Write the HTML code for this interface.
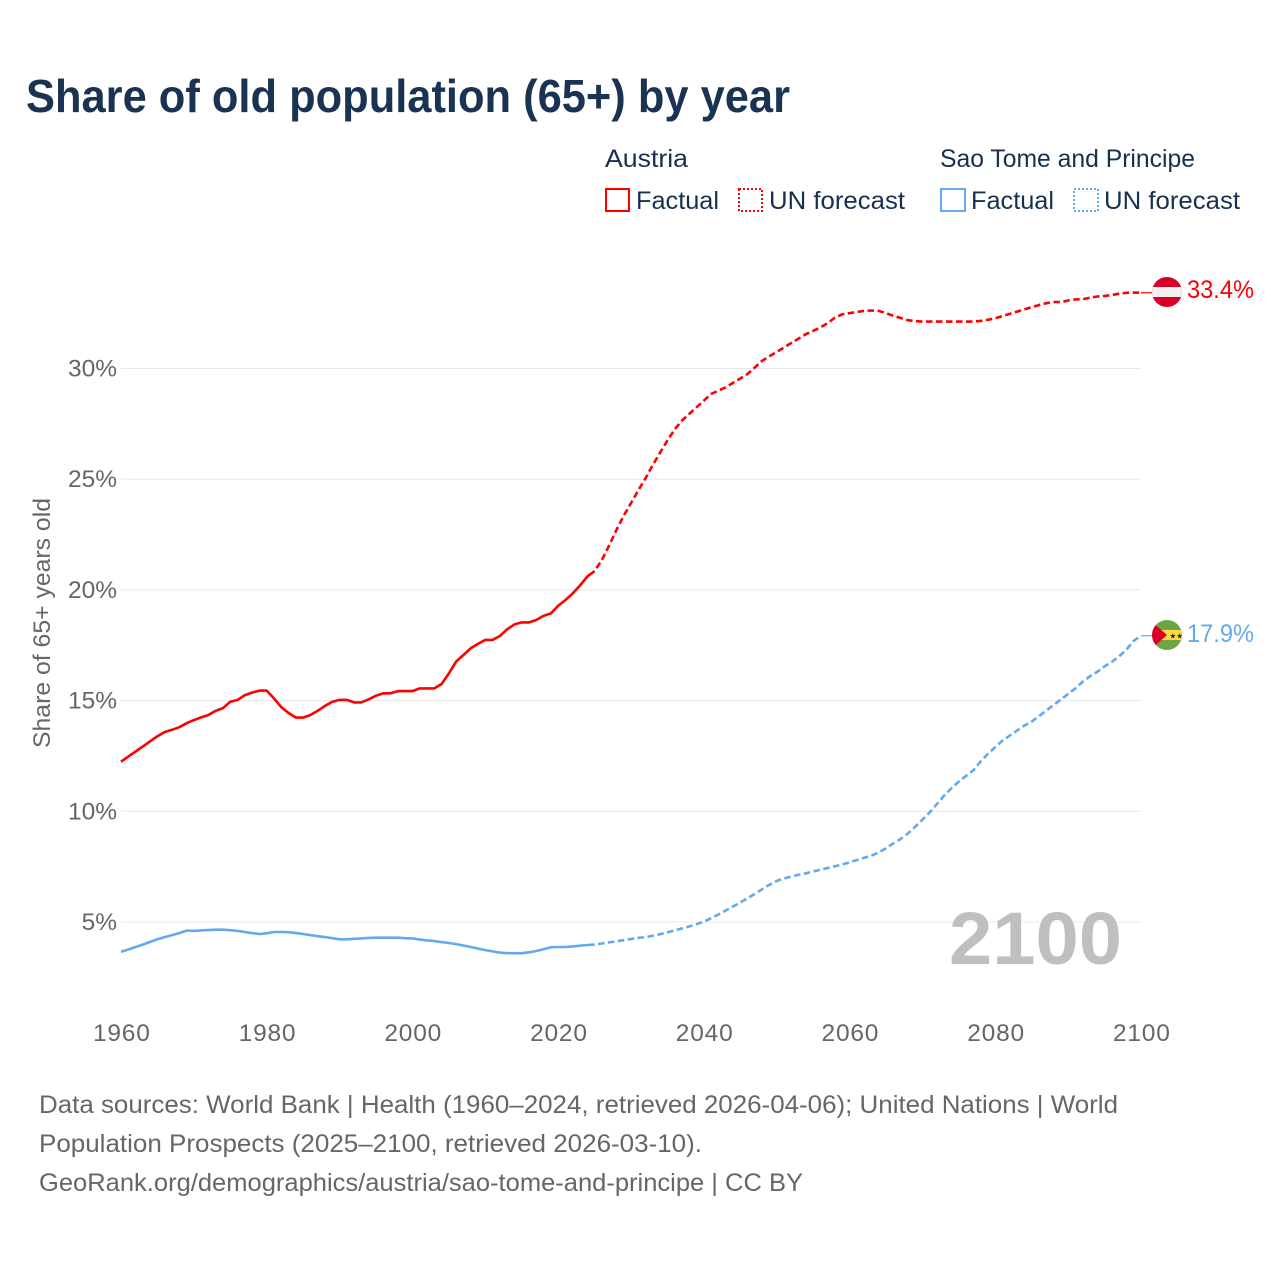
<!DOCTYPE html>
<html lang="en">
<head>
<meta charset="utf-8">
<title>Share of old population (65+) by year</title>
<style>
html,body{margin:0;padding:0;background:#fff;}
svg{display:block;}
text{font-family:"Liberation Sans",sans-serif;}
.leg{font-size:25px;fill:#17304f;}
.src{font-size:25px;fill:#666;}
.tick{font-size:24.5px;fill:#666;}
</style>
</head>
<body>
<svg id="chart" width="1280" height="1280" viewBox="0 0 1280 1280" xmlns="http://www.w3.org/2000/svg">
  <rect width="1280" height="1280" fill="#fff"/>
  <text x="26" y="112" font-size="46" font-weight="700" fill="#1a3353" textLength="764" lengthAdjust="spacingAndGlyphs">Share of old population (65+) by year</text>

  <g>
    <text class="leg" x="605" y="167" textLength="83" lengthAdjust="spacingAndGlyphs">Austria</text>
    <rect x="606" y="189" width="23" height="22" fill="none" stroke="#ff0000" stroke-width="2"/>
    <text class="leg" x="636" y="209" textLength="83" lengthAdjust="spacingAndGlyphs">Factual</text>
    <rect x="739" y="189" width="23" height="22" fill="none" stroke="#ff0000" stroke-width="2" stroke-dasharray="2 2"/>
    <text class="leg" x="769" y="209" textLength="136" lengthAdjust="spacingAndGlyphs">UN forecast</text>

    <text class="leg" x="940" y="167" textLength="255" lengthAdjust="spacingAndGlyphs">Sao Tome and Principe</text>
    <rect x="941" y="189" width="24" height="22" fill="none" stroke="#63a9ee" stroke-width="2"/>
    <text class="leg" x="971" y="209" textLength="83" lengthAdjust="spacingAndGlyphs">Factual</text>
    <rect x="1074" y="189" width="24" height="22" fill="none" stroke="#63a9ee" stroke-width="2" stroke-dasharray="2 2"/>
    <text class="leg" x="1104" y="209" textLength="136" lengthAdjust="spacingAndGlyphs">UN forecast</text>
  </g>

  <g id="grid"></g>
  <g id="yticks"></g>
  <g id="xticks"></g>
  <text transform="translate(50,748) rotate(-90)" font-size="24.500" fill="#666" textLength="250" lengthAdjust="spacingAndGlyphs">Share of 65+ years old</text>
  <text x="949" y="964" font-size="74" font-weight="700" fill="#bfbfbf" textLength="173" lengthAdjust="spacingAndGlyphs">2100</text>
  <g id="series"></g>

  <defs>
    <clipPath id="clip-at"><circle cx="1167" cy="292" r="15"/></clipPath>
    <clipPath id="clip-st"><circle cx="1167" cy="635" r="15"/></clipPath>
  </defs>
  <g clip-path="url(#clip-at)">
    <rect x="1152" y="277" width="30" height="30" fill="#d80027"/>
    <rect x="1152" y="287" width="30" height="10" fill="#f0f0f0"/>
  </g>
  <text x="1187" y="298" font-size="25" fill="#ff0000" textLength="67" lengthAdjust="spacingAndGlyphs">33.4%</text>
  <g clip-path="url(#clip-st)">
    <rect x="1152" y="620" width="30" height="30" fill="#6da544"/>
    <rect x="1152" y="630" width="30" height="10" fill="#ffda44"/>
    <polygon points="1150,620 1167,635 1150,650" fill="#d80027"/>
    <text x="1169.500" y="638.500" font-size="7.500" fill="#222" style="font-family:'DejaVu Sans',sans-serif">★★</text>
  </g>
  <text x="1187" y="642" font-size="25" fill="#63a9ee" textLength="67" lengthAdjust="spacingAndGlyphs">17.9%</text>

  <g>
    <text class="src" x="39" y="1113" textLength="1079" lengthAdjust="spacingAndGlyphs">Data sources: World Bank | Health (1960–2024, retrieved 2026-04-06); United Nations | World</text>
    <text class="src" x="39" y="1152" textLength="663" lengthAdjust="spacingAndGlyphs">Population Prospects (2025–2100, retrieved 2026-03-10).</text>
    <text class="src" x="39" y="1191" textLength="764" lengthAdjust="spacingAndGlyphs">GeoRank.org/demographics/austria/sao-tome-and-principe | CC BY</text>
  </g>
</svg>
<script>
const yTickValues = [5, 10, 15, 20, 25, 30];
const xTickValues = [1960, 1980, 2000, 2020, 2040, 2060, 2080, 2100];
const factualStartYear = 1960;
const forecastStartYear = 2025;

const austriaFactual = [
  12.24,12.47,12.70,12.93,13.16,13.39,13.58,13.68,13.80,13.98,
  14.12,14.24,14.35,14.54,14.66,14.95,15.03,15.25,15.36,15.45,
  15.45,15.10,14.70,14.44,14.23,14.23,14.35,14.54,14.76,14.95,
  15.03,15.03,14.92,14.92,15.06,15.22,15.33,15.33,15.43,15.43,
  15.43,15.55,15.55,15.55,15.75,16.23,16.76,17.06,17.36,17.56,
  17.74,17.74,17.92,18.22,18.44,18.53,18.53,18.64,18.83,18.94,
  19.28,19.54,19.84,20.20,20.60,20.85
];
const austriaForecast = [
  20.85,21.35,22.00,22.70,23.35,23.92,24.50,25.05,25.65,26.20,
  26.75,27.25,27.65,27.95,28.25,28.55,28.85,29.00,29.15,29.35,
  29.55,29.75,30.05,30.35,30.55,30.75,30.95,31.15,31.35,31.55,
  31.70,31.85,32.05,32.30,32.45,32.50,32.55,32.60,32.62,32.60,
  32.50,32.38,32.28,32.18,32.14,32.12,32.12,32.12,32.12,32.12,
  32.12,32.12,32.12,32.15,32.20,32.27,32.37,32.47,32.57,32.67,
  32.77,32.87,32.95,33.00,33.00,33.07,33.12,33.13,33.20,33.25,
  33.28,33.32,33.38,33.42,33.43,33.42
];
const saoTomeFactual = [
  3.66,3.76,3.87,3.98,4.10,4.22,4.32,4.41,4.50,4.61,
  4.60,4.62,4.64,4.65,4.65,4.63,4.60,4.55,4.50,4.46,
  4.49,4.55,4.55,4.54,4.50,4.46,4.41,4.36,4.32,4.27,
  4.22,4.22,4.24,4.26,4.28,4.29,4.29,4.29,4.29,4.27,
  4.26,4.21,4.17,4.14,4.09,4.05,4.00,3.94,3.87,3.80,
  3.73,3.67,3.62,3.59,3.59,3.59,3.63,3.69,3.77,3.86,
  3.87,3.87,3.90,3.93,3.96,3.98
];
const saoTomeForecast = [
  3.98,4.03,4.08,4.13,4.18,4.23,4.28,4.32,4.38,4.45,
  4.53,4.62,4.71,4.80,4.90,5.02,5.17,5.34,5.52,5.70,
  5.88,6.07,6.27,6.48,6.68,6.85,6.97,7.05,7.13,7.20,
  7.28,7.36,7.44,7.52,7.60,7.69,7.80,7.90,8.00,8.14,
  8.33,8.55,8.75,9.00,9.30,9.62,9.95,10.33,10.72,11.05,
  11.35,11.60,11.85,12.25,12.60,12.90,13.20,13.42,13.65,13.87,
  14.05,14.30,14.55,14.80,15.05,15.30,15.55,15.85,16.10,16.30,
  16.55,16.75,17.00,17.30,17.70,17.93
];

const NS = 'http://www.w3.org/2000/svg';
function xScale(year){ return 121 + (year - 1960) * (1020 / 140); }
function yScale(v){ return 922 - (v - 5) * 22.14; }
function toPoints(values, startYear){
  return values.map(function(v, i){
    return xScale(startYear + i).toFixed(1) + ',' + yScale(v).toFixed(1);
  }).join(' ');
}

const gridG = document.getElementById('grid');
const yG = document.getElementById('yticks');
yTickValues.forEach(function(v){
  const line = document.createElementNS(NS, 'line');
  
  
  line.setAttribute('x1', 121);
  line.setAttribute('x2', 1141);
  line.setAttribute('y1', yScale(v));
  line.setAttribute('y2', yScale(v));
  line.setAttribute('stroke', '#e8e8e8');
  line.setAttribute('stroke-width', '1');
  gridG.appendChild(line);
  const t = document.createElementNS(NS, 'text');
  
  
  t.setAttribute('class', 'tick');
  t.setAttribute('x', 117);
  t.setAttribute('y', yScale(v) + 8);
  t.setAttribute('text-anchor', 'end');
  t.textContent = v + '%';
  yG.appendChild(t);
});

const xG = document.getElementById('xticks');
xTickValues.forEach(function(year){
  const t = document.createElementNS(NS, 'text');
  
  
  t.setAttribute('class', 'tick');
  t.setAttribute('x', xScale(year) + 0.8);
  t.setAttribute('y', 1041);
  t.setAttribute('text-anchor', 'middle');
  t.setAttribute('style', 'letter-spacing:0.8px');
  t.textContent = year;
  xG.appendChild(t);
});

const seriesG = document.getElementById('series');

const l1 = document.createElementNS(NS, 'polyline');


l1.setAttribute('points', toPoints(austriaFactual, factualStartYear));
l1.setAttribute('fill', 'none');
l1.setAttribute('stroke', '#ff0000');
l1.setAttribute('stroke-width', '2.6');
l1.setAttribute('stroke-linejoin', 'round');
seriesG.appendChild(l1);

const l2 = document.createElementNS(NS, 'polyline');


l2.setAttribute('points', toPoints(austriaForecast, forecastStartYear));
l2.setAttribute('fill', 'none');
l2.setAttribute('stroke', '#ff0000');
l2.setAttribute('stroke-width', '2.6');
l2.setAttribute('stroke-dasharray', '6.5 3.5');
l2.setAttribute('stroke-dashoffset', '6.5');
seriesG.appendChild(l2);

const l3 = document.createElementNS(NS, 'polyline');


l3.setAttribute('points', toPoints(saoTomeFactual, factualStartYear));
l3.setAttribute('fill', 'none');
l3.setAttribute('stroke', '#63a9ee');
l3.setAttribute('stroke-width', '2.6');
l3.setAttribute('stroke-linejoin', 'round');
seriesG.appendChild(l3);

const l4 = document.createElementNS(NS, 'polyline');


l4.setAttribute('points', toPoints(saoTomeForecast, forecastStartYear));
l4.setAttribute('fill', 'none');
l4.setAttribute('stroke', '#63a9ee');
l4.setAttribute('stroke-width', '2.6');
l4.setAttribute('stroke-dasharray', '6.5 3.5');
l4.setAttribute('stroke-dashoffset', '6.5');
seriesG.appendChild(l4);

const c1 = document.createElementNS(NS, 'line');


c1.setAttribute('x1', xScale(2100));
c1.setAttribute('x2', 1152);
c1.setAttribute('y1', yScale(austriaForecast[austriaForecast.length - 1]));
c1.setAttribute('y2', yScale(austriaForecast[austriaForecast.length - 1]));
c1.setAttribute('stroke', '#ff0000');
c1.setAttribute('stroke-width', '1.2');
seriesG.appendChild(c1);

const c2 = document.createElementNS(NS, 'line');


c2.setAttribute('x1', xScale(2100));
c2.setAttribute('x2', 1152);
c2.setAttribute('y1', yScale(saoTomeForecast[saoTomeForecast.length - 1]));
c2.setAttribute('y2', yScale(saoTomeForecast[saoTomeForecast.length - 1]));
c2.setAttribute('stroke', '#63a9ee');
c2.setAttribute('stroke-width', '1.2');
seriesG.appendChild(c2);
</script>
</body>
</html>
